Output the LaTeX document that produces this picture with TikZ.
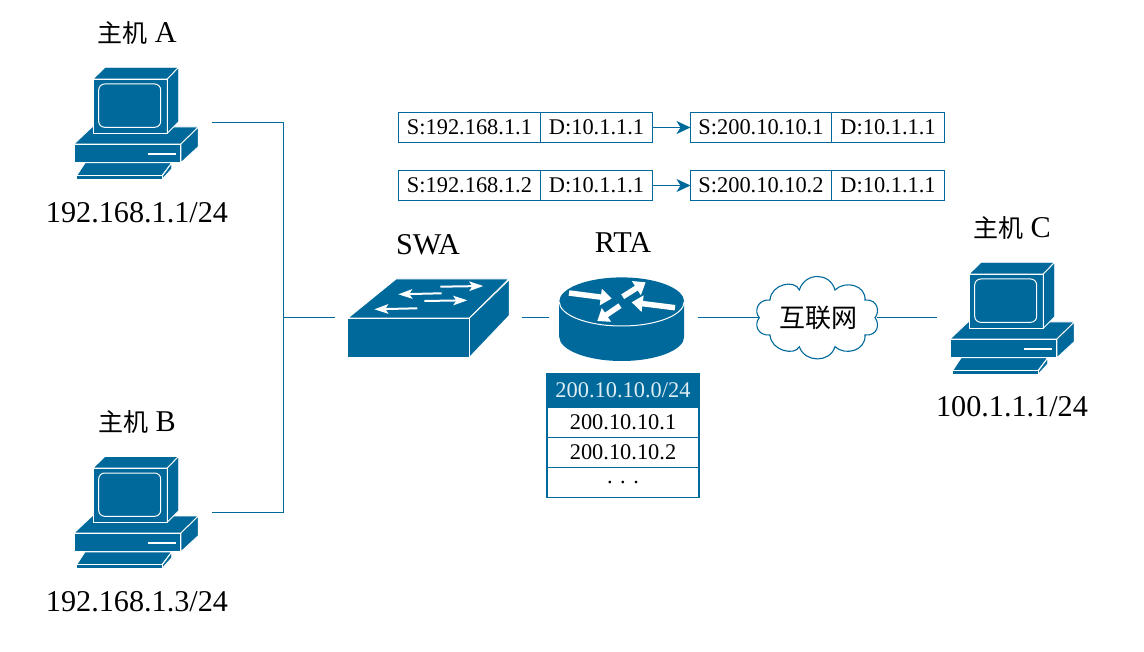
\documentclass[tikz,border=0pt]{standalone}
\usepackage{fontspec}
\setmainfont{Liberation Serif}
\newfontfamily\cjk{Noto Sans CJK SC}
\usetikzlibrary{arrows.meta}
\definecolor{netblue}{HTML}{00699B}
\tikzset{
  solid part/.style={fill=netblue,draw=white,line width=0.9pt,line join=round},
  link/.style={draw=netblue,line width=1pt},
  anchorbox/.style={inner sep=0pt,outer sep=0pt,minimum width=#1},
  biglabel/.style={font=\fontsize{30.2}{30.2}\selectfont,text=black,inner sep=0pt},
  cell/.style={draw=netblue,line width=1.2pt,inner sep=0pt,outer sep=0pt,minimum height=29.5pt,font=\fontsize{22.4}{22.4}\selectfont,text=black},
  rowcell/.style={cell,minimum width=152pt,minimum height=30pt},
}
\newcommand{\computericon}[2]{%
  \begin{scope}[shift={(#1,#2)}]
    \path[solid part] (74,144) -- (92,127) -- (198.3,127) -- (181,144) -- cycle;
    \path[solid part] (74,144) rectangle (180.5,162.7);
    \path[solid part] (181,144) -- (198.3,127) -- (198.3,146.7) -- (181,162.7) -- cycle;
    \draw[white,line width=1.5pt] (148.3,154) -- (175.7,154);
    \path[solid part] (93,79) -- (105,67.3) -- (178.7,67.3) -- (167.3,79) -- cycle;
    \path[solid part] (93,79) rectangle (167.3,133.3);
    \path[solid part] (167.3,79) -- (178.7,67.3) -- (178.7,121.7) -- (167.3,133.3) -- cycle;
    \draw[white,line width=1pt,rounded corners=6pt] (98.7,84) rectangle (160.7,127.3);
    \path[solid part] (76.7,175.5) -- (85,162.8) -- (171.7,162.8) -- (162,175.5) -- cycle;
    \path[solid part] (76.7,175.5) rectangle (162,179.5);
    \path[solid part] (162.5,175.5) -- (171.7,163) -- (171.7,169) -- (162.5,179) -- cycle;
  \end{scope}}
\newcommand{\blockarrow}[2]{\draw[white,line width=5.5pt,-{Triangle[length=11pt,width=16pt]}] #1 -- #2;}
\newcommand{\thinarrow}[2]{\draw[white,line width=2pt,-{Stealth[length=14pt,width=9.5pt,inset=3pt]}] #1 -- #2;}
\begin{document}
\begin{tikzpicture}[x=1pt,y=-1pt]
\useasboundingbox (0,0) rectangle (1144,652);
\computericon{0}{0}
\computericon{0}{389}
\computericon{876}{195}
% switch
\path[solid part] (348,318) -- (396,279) -- (508.7,279) -- (469.5,318) -- cycle;
\path[solid part] (347.3,318) rectangle (469.5,357.3);
\path[solid part] (469.5,318) -- (509.3,279.5) -- (509.3,315.5) -- (469.5,357.3) -- cycle;
\thinarrow{(440.3,286.7)}{(483.3,286)}
\thinarrow{(441.7,293.3)}{(398.3,294.3)}
\thinarrow{(424.3,301)}{(467.3,300.3)}
\thinarrow{(417.3,308.3)}{(374.3,309.3)}
% router
\fill[netblue] (559.2,303) -- (559.2,336.7) arc[x radius=62.5,y radius=24.3,start angle=180,end angle=0] -- (684.2,303) -- cycle;
\fill[netblue] (621.7,301.7) ellipse[x radius=62.5,y radius=24.3];
\draw[white,line width=1pt] (559.2,301.7) arc[x radius=62.5,y radius=24.3,start angle=180,end angle=0];
\blockarrow{(569,293)}{(611.7,298.5)}
\blockarrow{(622.7,296.7)}{(645.7,282.3)}
\blockarrow{(675,307.7)}{(631.7,302.3)}
\blockarrow{(620,305.7)}{(597.3,321)}
% cloud
\draw[draw=netblue,line width=1.1pt,fill=white]
  (759.3,317.7) .. controls (754,312) and (757,299) .. (770,300)
  .. controls (771,284) and (795,279) .. (799.3,290)
  .. controls (805,272) and (830,272) .. (835,290)
  .. controls (845,280) and (866,285) .. (865,300)
  .. controls (878,299) and (880,312) .. (875,317.7)
  .. controls (880,324) and (878,336) .. (865,335)
  .. controls (866,351) and (845,356) .. (835,346.7)
  .. controls (830,363) and (805,363) .. (799.3,346.7)
  .. controls (795,356) and (771,351) .. (770,335)
  .. controls (757,336) and (754,324) .. (759.3,317.7) -- cycle;
% anchor nodes
\node[anchorbox=140pt,minimum height=112pt] (hostA) at (142,123) {};
\node[anchorbox=140pt,minimum height=112pt] (hostB) at (142,512) {};
\node[anchorbox=150pt,minimum height=112pt] (hostC) at (1012,318) {};
\node[anchorbox=187pt,minimum height=78pt] (swa) at (428.5,318) {};
\node[anchorbox=149pt,minimum height=84pt] (rta) at (623.5,318) {};
\node[anchorbox=118.5pt,minimum height=60pt,font=\fontsize{26}{26}\selectfont\cjk,text=black] (cloud) at (818,318) {互联网};
\coordinate (junc) at (283,318);
\draw[link] (hostA.east) -| (junc);
\draw[link] (hostB.east) -| (junc);
\draw[link] (junc) -- (swa.west);
\draw[link] (swa.east) -- (rta.west);
\draw[link] (rta.east) -- (cloud.west);
\draw[link] (cloud.east) -- (hostC.west);
% labels
\node[biglabel] (labelA) at (137,33) {{\cjk\fontsize{25}{25}\selectfont 主机} A};
\node[biglabel] (ipA) at (137,213) {192.168.1.1/24};
\node[biglabel] (labelB) at (137,422) {{\cjk\fontsize{25}{25}\selectfont 主机} B};
\node[biglabel] (ipB) at (137,602) {192.168.1.3/24};
\node[biglabel] (labelC) at (1012,228) {{\cjk\fontsize{25}{25}\selectfont 主机} C};
\node[biglabel] (ipC) at (1012,407) {100.1.1.1/24};
\node[biglabel] (labelS) at (428,245) {SWA};
\node[biglabel] (labelR) at (623,243) {RTA};
% packet tables
\node[cell,minimum width=141.6pt] (a1) at (469.5,127.5) {S:192.168.1.1};
\node[cell,minimum width=112.4pt] (a2) at (596.5,127.5) {D:10.1.1.1};
\node[cell,minimum width=141pt] (b1) at (761,127.5) {S:200.10.10.1};
\node[cell,minimum width=113pt] (b2) at (888,127.5) {D:10.1.1.1};
\node[cell,minimum width=141.6pt] (c1) at (469.5,185.5) {S:192.168.1.2};
\node[cell,minimum width=112.4pt] (c2) at (596.5,185.5) {D:10.1.1.1};
\node[cell,minimum width=141pt] (d1) at (761,185.5) {S:200.10.10.2};
\node[cell,minimum width=113pt] (d2) at (888,185.5) {D:10.1.1.1};
\draw[link,-{Stealth[length=14pt,width=13pt,inset=4pt]}] (a2.east) -- (b1.west);
\draw[link,-{Stealth[length=14pt,width=13pt,inset=4pt]}] (c2.east) -- (d1.west);
% address pool
\node[rowcell,minimum height=34.4pt,fill=netblue,text=white!88!netblue] (p0) at (623,390.5) {200.10.10.0/24};
\node[rowcell] (p1) at (623,422.5) {200.10.10.1};
\node[rowcell] (p2) at (623,452.5) {200.10.10.2};
\node[rowcell] (p3) at (623,482.5) {. . .};
\end{tikzpicture}
\end{document}
